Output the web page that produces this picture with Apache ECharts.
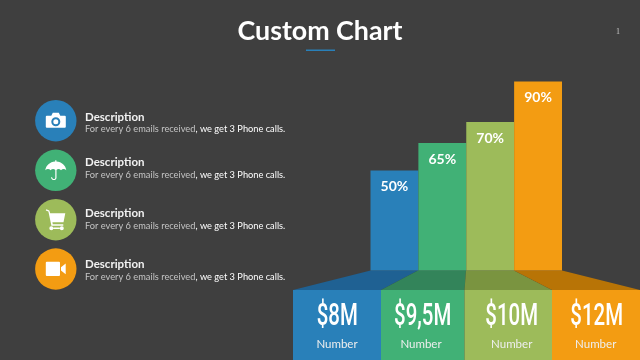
<!DOCTYPE html>
<html>
<head>
<meta charset="utf-8">
<style>html,body{margin:0;padding:0;background:#3f3f3f}#main{width:640px;height:360px}</style>
<script src="https://cdn.jsdelivr.net/npm/echarts@6/dist/echarts.min.js"></script>
</head>
<body>
<div id="main"></div>
<script>
// bar heights, the slide is not drawn to scale with its labels
var categories = ['A', 'B', 'C', 'D'];
var barHeights = [50, 63.75, 74.25, 94.5];
var barLabels = ['50%', '65%', '70%', '90%'];
var amounts = ['$8M', '$9,5M', '$10M', '$12M'];
var amountLabel = 'Number';
var descTitle = 'Description';
var descLeft = 'For every 6 emails received';
var descRight = ', we get 3 Phone calls.';

var colors = ['#2980b9', '#41b176', '#9dbb5a', '#f39c12'];
var darkColors = ['#1f6193', '#33845a', '#7a9440', '#b87406'];

var font = 'Lato, sans-serif';
var graphic = [];

function text(str, x, y, size, weight, fill, align, scaleX, family) {
  graphic.push({
    type: 'text', x: x, y: y, scaleX: scaleX || 1, silent: true,
    style: {text: str, x: 0, y: 0, fontFamily: family || font, fontSize: size, fontWeight: weight, fill: fill,
      align: align || 'left', verticalAlign: 'middle'}
  });
}

// title
text('Custom Chart', 320, 31, 26.8, 'bold', '#ffffff', 'center');
graphic.push({type: 'rect', shape: {x: 306, y: 49.5, width: 29, height: 1.5}, style: {fill: '#2980b9'}});
graphic.push({type: 'text', x: 618, y: 32, style: {text: '1', fontFamily: 'Liberation Serif', fontSize: 8, fill: '#c8c8c8', align: 'center', verticalAlign: 'middle'}});

// left list
var rowY = [120.7, 170.3, 219.7, 269];
var titleY = [117.2, 162.5, 213.2, 264.5];
var subY = [129.5, 175, 225.7, 277];
var icons = [
  // camera
  'M-9,-5 L-4.5,-5 L-3,-8 L3,-8 L4.5,-5 L9,-5 Q10,-5 10,-4 L10,6 Q10,7 9,7 L-9,7 Q-10,7 -10,6 L-10,-4 Q-10,-5 -9,-5 Z M0,-3.5 A4.5,4.5 0 1,0 0,5.5 A4.5,4.5 0 1,0 0,-3.5 Z M0,-1.5 A2.5,2.5 0 1,1 0,3.5 A2.5,2.5 0 1,1 0,-1.5 Z',
  // umbrella
  'M-0.6,-10 L0.6,-10 L0.6,-8.8 C6,-8.4 9.8,-5 10.5,0 C9,-1.6 6.6,-1.6 5.2,0 C4,-1.5 1.8,-1.6 0.7,-0.4 L0.7,7.5 C0.7,10.5 -4.6,10.8 -4.8,7 L-3.7,7 C-3.5,9.3 -0.5,9.2 -0.5,7.5 L-0.5,-0.4 C-1.8,-1.6 -4,-1.5 -5.2,0 C-6.6,-1.6 -9,-1.6 -10.5,0 C-9.8,-5 -6,-8.4 -0.6,-8.8 Z',
  // cart
  'M-9.5,-10.5 L-6.5,-9.3 L-5.6,-6.5 L9.5,-6.5 L7.7,2.5 L-3.4,2.5 L-3,4.5 L7.5,4.5 L7.5,6 L-4.4,6 L-7.4,-8.1 L-10,-9.1 Z M-4.5,6.5 A2,2 0 1,1 -4.5,10.5 A2,2 0 1,1 -4.5,6.5 Z M6,6.5 A2,2 0 1,1 6,10.5 A2,2 0 1,1 6,6.5 Z M-2.5,7.8 L4,7.8 L4,9.2 L-2.5,9.2 Z',
  // video camera
  'M-9,-7.2 L3.2,-7.2 Q4.2,-7.2 4.2,-6.2 L4.2,6 Q4.2,7 3.2,7 L-9,7 Q-10,7 -10,6 L-10,-6.2 Q-10,-7.2 -9,-7.2 Z M5.2,-1.8 L9.9,-5.5 L9.9,5.3 L5.2,1.6 Z'
];
categories.forEach(function (c, i) {
  var iconName = 'icon' + i;
  echarts.graphic.registerShape(iconName, echarts.graphic.extendPath(icons[i]));
  graphic.push({type: 'circle', shape: {cx: 55.8, cy: rowY[i], r: 20.7}, style: {fill: colors[i]}});
  graphic.push({type: iconName, x: 55.8, y: rowY[i], style: {fill: '#ffffff'}});
  text(descTitle, 85, titleY[i], 11.5, 'bold', '#f2f2f2');
  graphic.push({
    type: 'text', x: 85, y: subY[i], silent: true,
    style: {
      text: '{a|' + descLeft + '}{b|' + descRight + '}',
      verticalAlign: 'middle',
      rich: {
        a: {fontFamily: font, fontSize: 9.25, fill: '#c4c4c4'},
        b: {fontFamily: font, fontSize: 9.25, fill: '#ffffff'}
      }
    }
  });
});

// perspective floor and the boxes under the bars
var topEdges = [370.5, 418, 466, 514, 562];
var boxEdges = [293, 381, 464.5, 552, 640];
var amountX = [337.3, 422.7, 511.7, 596.7];
var numberX = [337, 421, 511.7, 595.7];
categories.forEach(function (c, i) {
  graphic.push({
    type: 'polygon',
    shape: {points: [[topEdges[i], 270.5], [topEdges[i + 1], 270.5], [boxEdges[i + 1], 290], [boxEdges[i], 290]]},
    style: {fill: darkColors[i]}
  });
  graphic.push({
    type: 'rect',
    shape: {x: boxEdges[i], y: 290, width: boxEdges[i + 1] - boxEdges[i], height: 70},
    style: {fill: colors[i]}
  });
  text(amounts[i], amountX[i], 317.5, 30.5, 500, '#ffffff', 'center', 0.67, 'Roboto');
  text(amountLabel, numberX[i], 344, 11.5, 'normal', '#eeeeee', 'center');
});

var myChart = echarts.init(document.getElementById('main'));
var option = {
  animation: false,
  backgroundColor: '#3f3f3f',
  grid: {left: 370.5, width: 191.5, top: 70.5, height: 200},
  xAxis: {type: 'category', data: categories, show: false},
  yAxis: {type: 'value', min: 0, max: 100, show: false},
  graphic: graphic,
  series: [{
    type: 'bar',
    barWidth: '100%',
    data: barHeights.map(function (v, i) {
      return {value: v, itemStyle: {color: colors[i]}, label: {formatter: barLabels[i]}};
    }),
    label: {
      show: true, position: 'insideTop', distance: 9,
      fontFamily: font, fontSize: 14, fontWeight: 'bold', color: '#ffffff'
    }
  }]
};
myChart.setOption(option);
</script>
</body>
</html>
